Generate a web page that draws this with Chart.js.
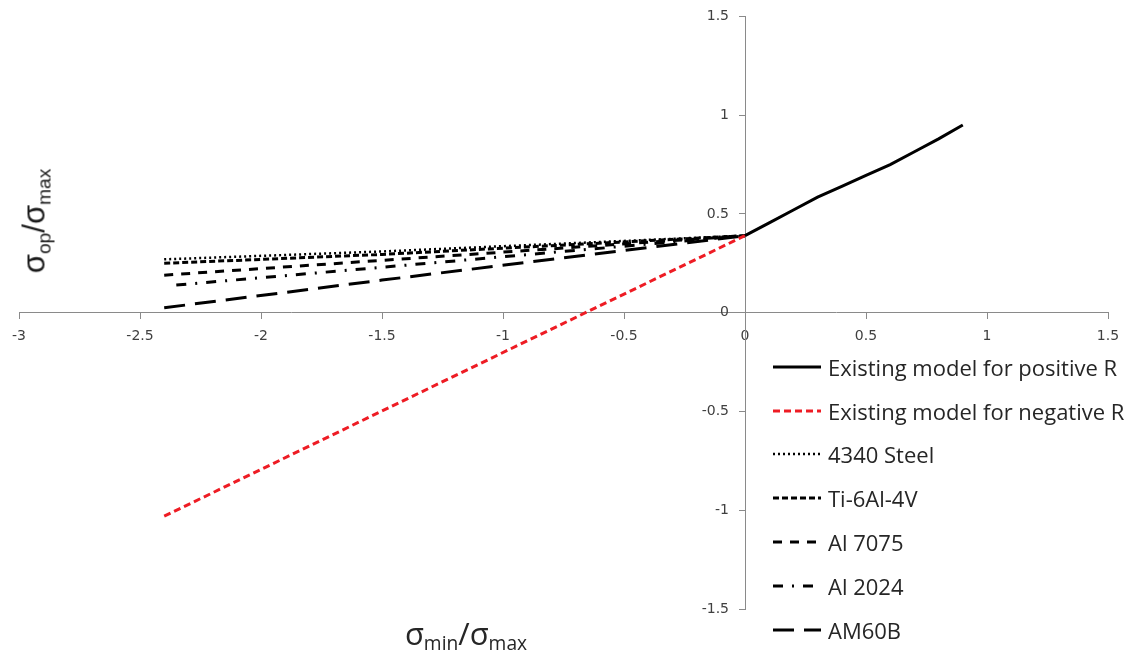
<!DOCTYPE html>
<html>
<head>
<meta charset="utf-8">
<title>Crack opening stress ratio</title>
<script src="https://cdn.jsdelivr.net/npm/chart.js@4.4.1/dist/chart.umd.min.js"></script>
<style>
  html, body { margin: 0; padding: 0; background: #fff; }
  #wrap { position: relative; width: 1141px; height: 661px; overflow: hidden; }
  #chart { position: absolute; left: 0; top: 0; }
  .ytitle {
    position: absolute; left: 36px; top: 221px;
    transform: translate(-50%, -50%) rotate(-90deg);
    font-family: "Liberation Sans", Arial, sans-serif; font-size: 31px; color: #1a1a1a;
    white-space: nowrap; line-height: 1;
  }
  .xtitle {
    position: absolute; left: 466px; top: 635px;
    transform: translate(-50%, -50%);
    font-family: "Open Sans", sans-serif; font-size: 31px; color: #262626;
    white-space: nowrap; line-height: 1;
  }
  .ytitle sub, .xtitle sub { font-size: 0.62em; vertical-align: -0.3em; }
  #legend { position: absolute; left: 773px; top: 345px; }
  .row { display: flex; align-items: center; height: 43.8px; }
  .row svg { width: 48px; height: 6px; margin-right: 7px; }
  .row span { font-family: "Open Sans", sans-serif; font-size: 22px; color: #262626; white-space: nowrap; }
</style>
</head>
<body>
<div id="wrap">
  <canvas id="chart" width="1141" height="661"></canvas>
  <div class="ytitle">σ<sub>op</sub>/σ<sub>max</sub></div>
  <div class="xtitle">σ<sub>min</sub>/σ<sub>max</sub></div>
  <div id="legend"></div>
</div>
<script>
document.addEventListener("DOMContentLoaded", function () {
  // Existing closure model, R >= 0
  const posR_x = [0, 0.1, 0.2, 0.3, 0.4, 0.5, 0.6, 0.7, 0.8, 0.9];
  const posR_y = [0.39, 0.455, 0.52, 0.585, 0.64, 0.695, 0.75, 0.815, 0.88, 0.95];

  // Existing closure model, R < 0
  const negR_x = [-2.4, 0];
  const negR_y = [-1.03, 0.39];

  // Measured materials
  const steel4340_x = [-2.4, -1.5, 0];
  const steel4340_y = [0.27, 0.31, 0.39];
  const ti64_x = [-2.4, -1.5, 0];
  const ti64_y = [0.25, 0.295, 0.39];
  const al7075_x = [-2.4, -1.5, 0];
  const al7075_y = [0.19, 0.265, 0.39];
  const al2024_x = [-2.35, -1.5, 0];
  const al2024_y = [0.14, 0.23, 0.39];
  const am60b_x = [-2.4, -1.5, 0];
  const am60b_y = [0.025, 0.165, 0.39];

  const xTicks = [-3, -2.5, -2, -1.5, -1, -0.5, 0, 0.5, 1, 1.5];
  const yTicks = [-1.5, -1, -0.5, 0, 0.5, 1, 1.5];

  const toPoints = (xs, ys) => xs.map((x, i) => ({ x: x, y: ys[i] }));

  const seriesDefs = [
    { label: 'Existing model for positive R', xs: posR_x, ys: posR_y, color: '#000000', dash: [], width: 3 },
    { label: 'Existing model for negative R', xs: negR_x, ys: negR_y, color: '#ee1c24', dash: [7, 4], width: 3 },
    { label: '4340 Steel', xs: steel4340_x, ys: steel4340_y, color: '#000000', dash: [2, 3], width: 2.5 },
    { label: 'Ti-6Al-4V', xs: ti64_x, ys: ti64_y, color: '#000000', dash: [6, 3], width: 3 },
    { label: 'Al 7075', xs: al7075_x, ys: al7075_y, color: '#000000', dash: [9, 8], width: 3 },
    { label: 'Al 2024', xs: al2024_x, ys: al2024_y, color: '#000000', dash: [10, 9, 2, 9], width: 3 },
    { label: 'AM60B', xs: am60b_x, ys: am60b_y, color: '#000000', dash: [21, 10], width: 3 }
  ];

  const axisColor = '#8a8a8a';
  const tickFont = { family: '"DejaVu Sans", Verdana, sans-serif', size: 14 };
  const yLabelGap = 16; // tick mark + padding, left of the vertical axis

  // A y axis placed at x = 0 puts its labels right on the line; push them left
  const shiftYLabels = {
    id: 'shiftYLabels',
    beforeDraw(chart) {
      const y = chart.scales.y;
      y.getLabelItems(chart.chartArea).forEach(item => {
        if (!item._shifted) {
          item.options.translation[0] -= yLabelGap;
          item._shifted = true;
        }
      });
    }
  };

  new Chart(document.getElementById('chart').getContext('2d'), {
    type: 'scatter',
    data: {
      datasets: seriesDefs.map(s => ({
        label: s.label,
        data: toPoints(s.xs, s.ys),
        showLine: true,
        borderColor: s.color,
        borderDash: s.dash,
        borderWidth: s.width,
        borderCapStyle: 'butt',
        pointRadius: 0,
        tension: 0,
        fill: false
      }))
    },
    options: {
      responsive: false,
      animation: false,
      devicePixelRatio: 1,
      layout: { padding: { left: 19, right: 33, top: 12, bottom: 52 } },
      plugins: { legend: { display: false }, tooltip: { enabled: false } },
      scales: {
        x: {
          type: 'linear',
          min: -3, max: 1.5,
          position: { y: 0 },
          afterBuildTicks: axis => { axis.ticks = xTicks.map(v => ({ value: v })); },
          ticks: { font: tickFont, color: '#404040', padding: 9, maxRotation: 0, callback: v => String(v) },
          grid: { drawOnChartArea: false, drawTicks: true, tickLength: 6, color: axisColor },
          border: { display: true, color: axisColor, width: 1 }
        },
        y: {
          type: 'linear',
          min: -1.5, max: 1.5,
          position: { x: 0 },
          afterBuildTicks: axis => { axis.ticks = yTicks.map(v => ({ value: v })); },
          ticks: { font: tickFont, color: '#404040', padding: 8, callback: v => String(v) },
          grid: { drawOnChartArea: false, drawTicks: true, tickLength: 6, color: axisColor },
          border: { display: true, color: axisColor, width: 1 }
        }
      }
    },
    plugins: [shiftYLabels]
  });

  // Legend drawn beside the chart, bottom right
  const legend = document.getElementById('legend');
  seriesDefs.forEach(s => {
    const row = document.createElement('div');
    row.className = 'row';
    const dash = s.dash.length ? s.dash.join(' ') : 'none';
    row.innerHTML =
      '<svg viewBox="0 0 48 6"><line x1="0" y1="3" x2="48" y2="3" stroke="' + s.color +
      '" stroke-width="' + s.width + '" stroke-dasharray="' + dash + '"/></svg>' +
      '<span></span>';
    row.querySelector('span').textContent = s.label;
    legend.appendChild(row);
  });
});
</script>
</body>
</html>
